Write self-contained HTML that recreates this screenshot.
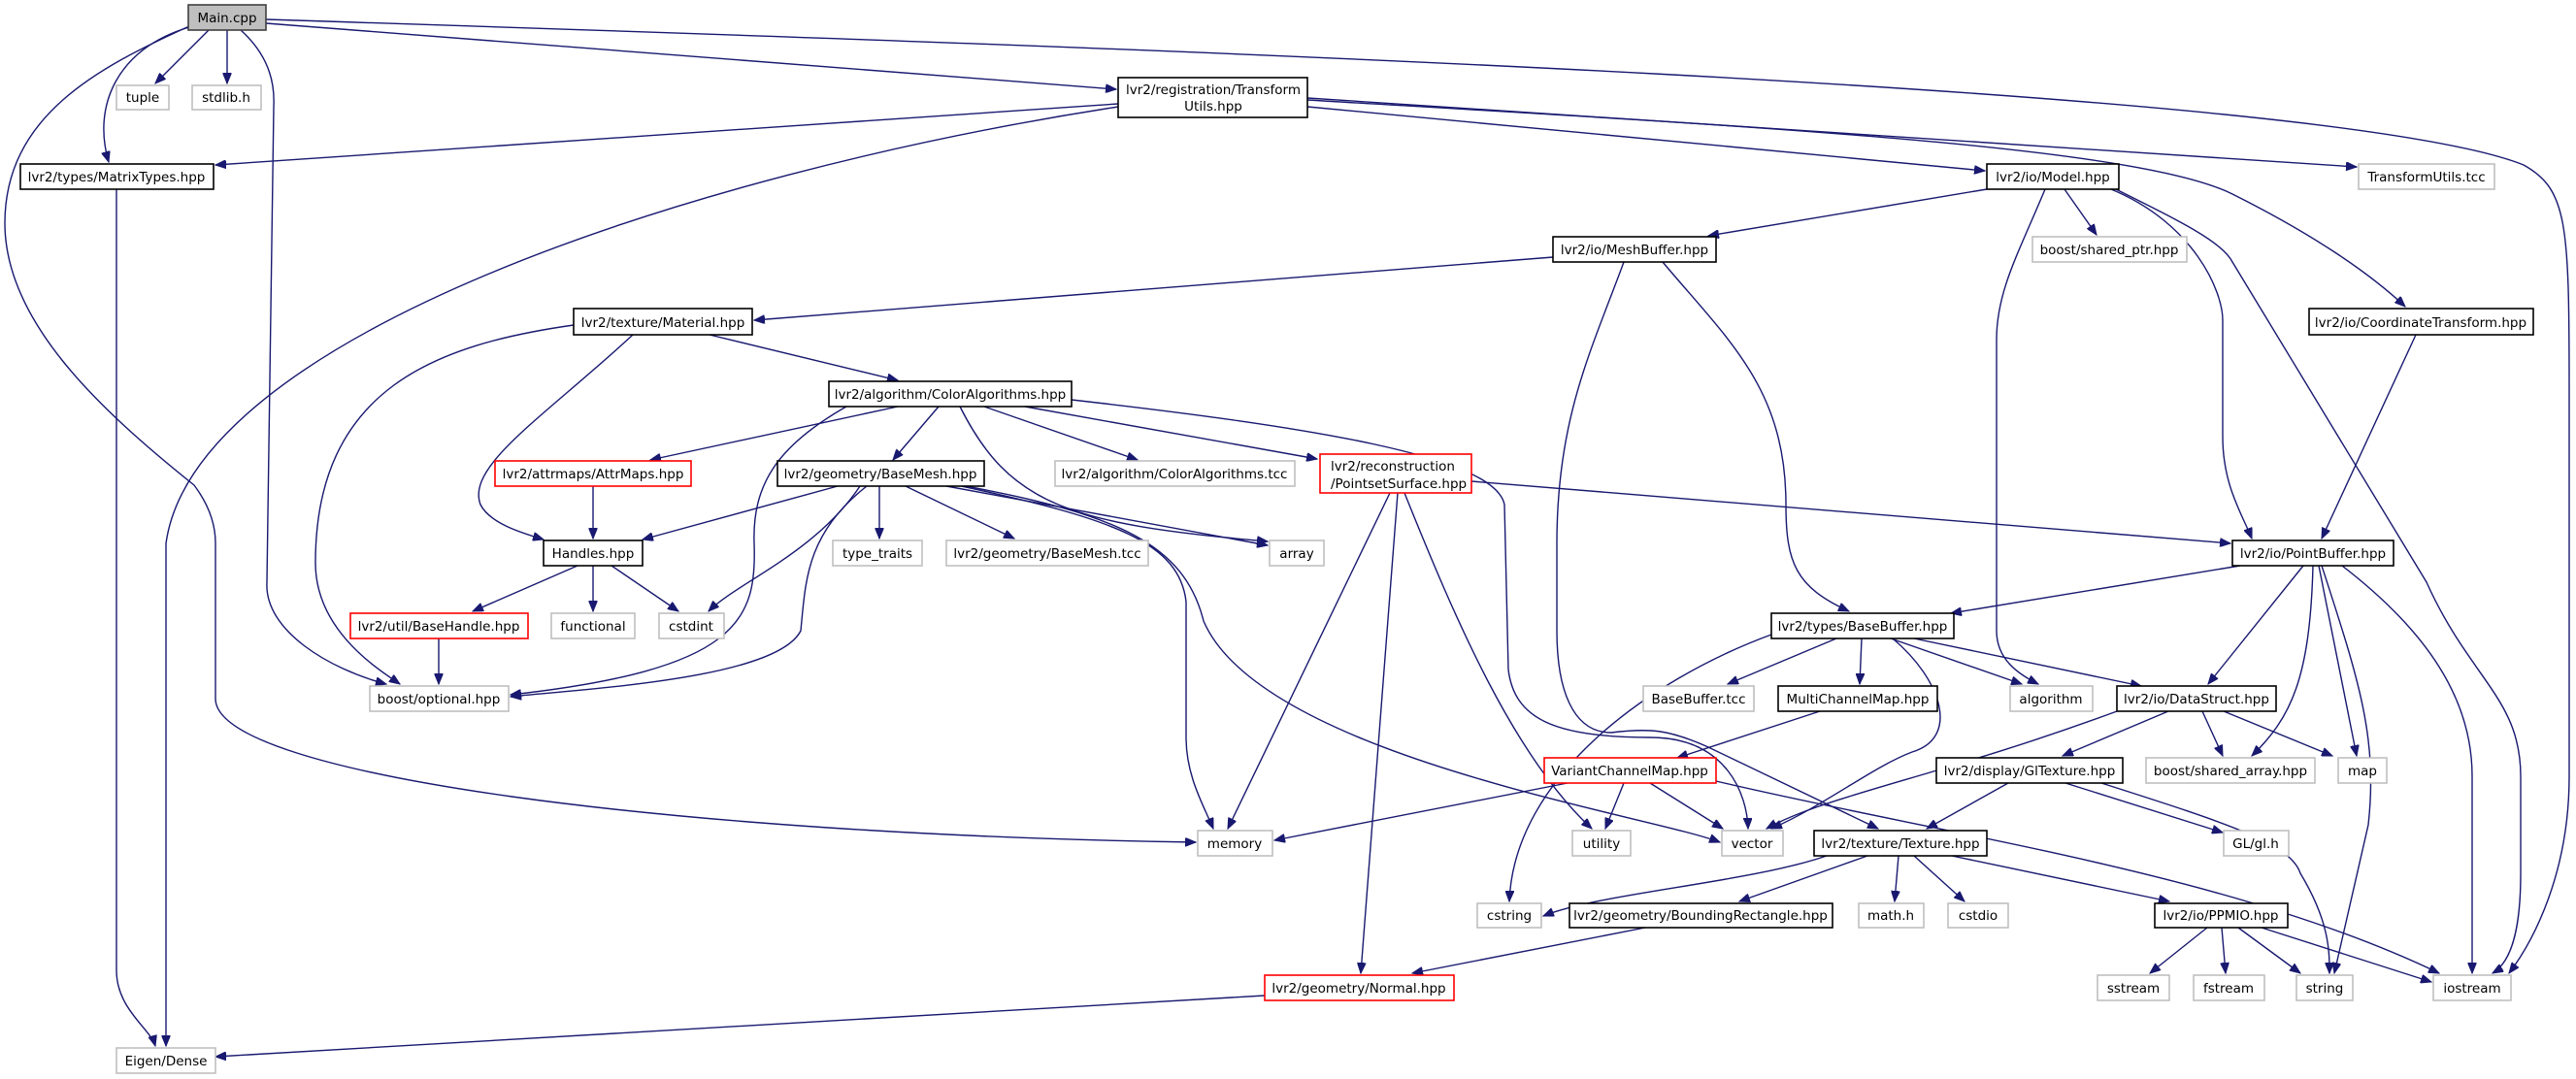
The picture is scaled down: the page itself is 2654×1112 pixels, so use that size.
<!DOCTYPE html>
<html><head><meta charset="utf-8"><style>
html,body{margin:0;padding:0;background:#fff;}
svg{display:block;}
text{font-family:"DejaVu Sans","Liberation Sans",sans-serif;font-size:13.5px;fill:#000;}
.e{fill:none;stroke:#191970;stroke-width:1.4;marker-end:url(#a);}
.b{fill:#fff;stroke:#000;stroke-width:1.6;}
.g{fill:#fff;stroke:#bfbfbf;stroke-width:1.6;}
.r{fill:#fff;stroke:#ff0000;stroke-width:1.6;}
</style></head><body>
<svg width="2654" height="1112" viewBox="0 0 2654 1112" xmlns="http://www.w3.org/2000/svg">
<defs><marker id="a" markerUnits="userSpaceOnUse" markerWidth="12" markerHeight="9" refX="11" refY="4.5" orient="auto"><path d="M0,0 L11,4.5 L0,9 z" fill="#191970" stroke="#191970"/></marker></defs>
<g>
<path class="e" d="M215,31 L160,86"/>
<path class="e" d="M234,31 L234,86"/>
<path class="e" d="M274,24 L1150,92"/>
<path class="e" d="M195,28 C120,50 95,110 112,167"/>
<path class="e" d="M274,20 C1200,50 2400,90 2600,170 C2645,195 2647,230 2647,400 L2647,800 C2647,900 2610,970 2585,1003"/>
<path class="e" d="M195,27 C100,70 5,120 5,230 C5,330 100,420 200,500 C215,520 222,540 222,560 L222,720 C222,800 700,860 1232,868"/>
<path class="e" d="M248,31 C280,60 283,90 282,110 L275,600 C272,650 340,690 398,705"/>
<path class="e" d="M1152,107 L222,170"/>
<path class="e" d="M1152,110 C700,180 200,350 171,560 L171,1078"/>
<path class="e" d="M120,195 L120,1000 C120,1040 155,1060 160,1078"/>
<path class="e" d="M1347,110 L2045,176"/>
<path class="e" d="M1347,101 L2428,172"/>
<path class="e" d="M1347,103 C1800,130 2200,150 2300,200 C2380,240 2440,280 2478,316"/>
<path class="e" d="M2047,195 L1760,243"/>
<path class="e" d="M2127,195 L2160,242"/>
<path class="e" d="M2107,195 C2080,260 2057,300 2057,350 L2057,650 C2057,680 2080,695 2100,705"/>
<path class="e" d="M2175,195 C2260,230 2290,300 2290,330 L2290,450 C2290,500 2310,530 2320,555"/>
<path class="e" d="M2180,195 C2250,230 2290,250 2300,270 L2500,600 C2545,700 2597,720 2597,800 L2597,900 C2597,950 2590,990 2568,1003"/>
<path class="e" d="M1600,265 L777,330"/>
<path class="e" d="M1673,270 C1640,360 1604,430 1604,560 L1604,650 C1604,710 1620,755 1660,755 C1700,750 1720,752 1760,770 L1935,854"/>
<path class="e" d="M1713,270 C1780,350 1840,400 1840,520 C1840,580 1850,605 1905,630"/>
<path class="e" d="M2489,345 L2392,555"/>
<path class="e" d="M591,335 C450,355 325,400 325,580 C325,650 390,690 412,705"/>
<path class="e" d="M652,345 C560,430 480,480 495,520 C505,540 540,550 560,556"/>
<path class="e" d="M731,345 L925,392"/>
<path class="e" d="M925,419 L670,474"/>
<path class="e" d="M967,419 L920,474"/>
<path class="e" d="M1014,419 L1172,474"/>
<path class="e" d="M1056,419 L1357,473"/>
<path class="e" d="M989,419 C1040,520 1100,540 1306,558"/>
<path class="e" d="M872,419 C800,460 775,500 777,560 C780,640 760,690 526,716"/>
<path class="e" d="M1104,412 C1350,440 1540,470 1550,520 L1554,690 C1560,740 1600,760 1700,760 C1780,760 1800,820 1801,854"/>
<path class="e" d="M611,501 L611,555"/>
<path class="e" d="M863,501 L662,556"/>
<path class="e" d="M906,501 L906,555"/>
<path class="e" d="M933,501 L1045,555"/>
<path class="e" d="M975,501 L1306,562"/>
<path class="e" d="M886,501 C840,570 760,600 730,630"/>
<path class="e" d="M893,501 C830,550 830,600 825,650 C800,700 600,710 526,718"/>
<path class="e" d="M990,501 C1150,535 1215,560 1222,620 L1222,760 C1222,800 1240,830 1250,854"/>
<path class="e" d="M995,501 C1150,530 1220,560 1240,640 C1300,780 1700,840 1772,868"/>
<path class="e" d="M1516,496 L2298,560"/>
<path class="e" d="M1432,508 L1265,854"/>
<path class="e" d="M1447,508 C1500,640 1560,780 1640,854"/>
<path class="e" d="M1440,508 L1402,1003"/>
<path class="e" d="M595,583 L487,630"/>
<path class="e" d="M611,583 L611,630"/>
<path class="e" d="M630,583 L699,630"/>
<path class="e" d="M452,658 L452,705"/>
<path class="e" d="M2308,583 L2010,632"/>
<path class="e" d="M2373,583 L2275,705"/>
<path class="e" d="M2383,583 C2380,700 2360,740 2320,779"/>
<path class="e" d="M2389,583 L2428,779"/>
<path class="e" d="M2392,583 C2430,700 2450,760 2440,850 L2405,1003"/>
<path class="e" d="M2413,583 C2500,650 2547,720 2547,800 L2547,1003"/>
<path class="e" d="M1892,658 L1780,705"/>
<path class="e" d="M1918,658 L1916,705"/>
<path class="e" d="M1948,658 L2083,705"/>
<path class="e" d="M1972,658 L2206,707"/>
<path class="e" d="M1950,658 C2000,700 2020,760 1970,775 C1930,790 1880,830 1825,854"/>
<path class="e" d="M1825,654 C1700,700 1560,800 1555,929"/>
<path class="e" d="M1875,733 L1728,781"/>
<path class="e" d="M1615,807 L1313,866"/>
<path class="e" d="M1673,807 L1654,854"/>
<path class="e" d="M1700,807 L1775,854"/>
<path class="e" d="M1768,805 C2000,860 2300,900 2513,1003"/>
<path class="e" d="M2181,733 C2000,800 1880,820 1820,854"/>
<path class="e" d="M2234,733 L2125,779"/>
<path class="e" d="M2269,733 L2290,779"/>
<path class="e" d="M2291,733 L2403,779"/>
<path class="e" d="M2069,807 L1985,854"/>
<path class="e" d="M2128,807 L2290,858"/>
<path class="e" d="M2165,807 C2300,850 2360,870 2370,900 C2400,950 2400,980 2400,1003"/>
<path class="e" d="M1882,882 C1800,910 1650,920 1590,944"/>
<path class="e" d="M1924,882 L1792,929"/>
<path class="e" d="M1956,882 L1952,929"/>
<path class="e" d="M1972,882 L2024,929"/>
<path class="e" d="M2011,882 L2235,929"/>
<path class="e" d="M1695,956 L1455,1003"/>
<path class="e" d="M1303,1026 L222,1089"/>
<path class="e" d="M2274,956 L2215,1003"/>
<path class="e" d="M2289,956 L2293,1003"/>
<path class="e" d="M2306,956 L2370,1003"/>
<path class="e" d="M2330,956 L2505,1012"/>
</g>
<g>
<rect x="194" y="5" width="80" height="26" fill="#bfbfbf" stroke="#404040" stroke-width="1.6"/><text x="234" y="23" text-anchor="middle">Main.cpp</text>
<rect class="g" x="120" y="88" width="54" height="25"/><text x="147" y="105" text-anchor="middle">tuple</text>
<rect class="g" x="198" y="88" width="71" height="25"/><text x="233" y="105" text-anchor="middle">stdlib.h</text>
<rect class="b" x="1152" y="80" width="195" height="41"/><text x="1250" y="97" text-anchor="middle">lvr2/registration/Transform</text><text x="1250" y="114" text-anchor="middle">Utils.hpp</text>
<rect class="b" x="21" y="169" width="199" height="26"/><text x="120" y="187" text-anchor="middle">lvr2/types/MatrixTypes.hpp</text>
<rect class="b" x="2047" y="169" width="136" height="26"/><text x="2115" y="187" text-anchor="middle">lvr2/io/Model.hpp</text>
<rect class="g" x="2430" y="169" width="140" height="26"/><text x="2500" y="187" text-anchor="middle">TransformUtils.tcc</text>
<rect class="b" x="1600" y="244" width="168" height="26"/><text x="1684" y="262" text-anchor="middle">lvr2/io/MeshBuffer.hpp</text>
<rect class="g" x="2094" y="244" width="159" height="26"/><text x="2173" y="262" text-anchor="middle">boost/shared_ptr.hpp</text>
<rect class="b" x="2379" y="318" width="231" height="27"/><text x="2494" y="337" text-anchor="middle">lvr2/io/CoordinateTransform.hpp</text>
<rect class="b" x="591" y="318" width="184" height="27"/><text x="683" y="337" text-anchor="middle">lvr2/texture/Material.hpp</text>
<rect class="b" x="854" y="393" width="250" height="26"/><text x="979" y="411" text-anchor="middle">lvr2/algorithm/ColorAlgorithms.hpp</text>
<rect class="r" x="510" y="475" width="202" height="26"/><text x="611" y="493" text-anchor="middle">lvr2/attrmaps/AttrMaps.hpp</text>
<rect class="b" x="801" y="475" width="213" height="26"/><text x="907" y="493" text-anchor="middle">lvr2/geometry/BaseMesh.hpp</text>
<rect class="g" x="1087" y="475" width="247" height="26"/><text x="1210" y="493" text-anchor="middle">lvr2/algorithm/ColorAlgorithms.tcc</text>
<rect class="r" x="1360" y="468" width="156" height="40"/><text x="1371" y="485">lvr2/reconstruction</text><text x="1371" y="503">/PointsetSurface.hpp</text>
<rect class="b" x="560" y="557" width="102" height="26"/><text x="611" y="575" text-anchor="middle">Handles.hpp</text>
<rect class="g" x="858" y="557" width="92" height="26"/><text x="904" y="575" text-anchor="middle">type_traits</text>
<rect class="g" x="975" y="557" width="208" height="26"/><text x="1079" y="575" text-anchor="middle">lvr2/geometry/BaseMesh.tcc</text>
<rect class="g" x="1308" y="557" width="56" height="26"/><text x="1336" y="575" text-anchor="middle">array</text>
<rect class="b" x="2300" y="557" width="166" height="26"/><text x="2383" y="575" text-anchor="middle">lvr2/io/PointBuffer.hpp</text>
<rect class="r" x="361" y="632" width="183" height="26"/><text x="452" y="650" text-anchor="middle">lvr2/util/BaseHandle.hpp</text>
<rect class="g" x="568" y="632" width="86" height="26"/><text x="611" y="650" text-anchor="middle">functional</text>
<rect class="g" x="679" y="632" width="67" height="26"/><text x="712" y="650" text-anchor="middle">cstdint</text>
<rect class="b" x="1825" y="632" width="188" height="26"/><text x="1919" y="650" text-anchor="middle">lvr2/types/BaseBuffer.hpp</text>
<rect class="g" x="381" y="707" width="143" height="26"/><text x="452" y="725" text-anchor="middle">boost/optional.hpp</text>
<rect class="g" x="1693" y="707" width="114" height="26"/><text x="1750" y="725" text-anchor="middle">BaseBuffer.tcc</text>
<rect class="b" x="1832" y="707" width="164" height="26"/><text x="1914" y="725" text-anchor="middle">MultiChannelMap.hpp</text>
<rect class="g" x="2071" y="707" width="85" height="26"/><text x="2113" y="725" text-anchor="middle">algorithm</text>
<rect class="b" x="2181" y="707" width="164" height="26"/><text x="2263" y="725" text-anchor="middle">lvr2/io/DataStruct.hpp</text>
<rect class="r" x="1591" y="781" width="177" height="26"/><text x="1679" y="799" text-anchor="middle">VariantChannelMap.hpp</text>
<rect class="b" x="1995" y="781" width="192" height="26"/><text x="2091" y="799" text-anchor="middle">lvr2/display/GlTexture.hpp</text>
<rect class="g" x="2211" y="781" width="174" height="26"/><text x="2298" y="799" text-anchor="middle">boost/shared_array.hpp</text>
<rect class="g" x="2409" y="781" width="50" height="26"/><text x="2434" y="799" text-anchor="middle">map</text>
<rect class="g" x="1234" y="856" width="77" height="26"/><text x="1272" y="874" text-anchor="middle">memory</text>
<rect class="g" x="1620" y="856" width="60" height="26"/><text x="1650" y="874" text-anchor="middle">utility</text>
<rect class="g" x="1774" y="856" width="63" height="26"/><text x="1805" y="874" text-anchor="middle">vector</text>
<rect class="b" x="1869" y="856" width="178" height="26"/><text x="1958" y="874" text-anchor="middle">lvr2/texture/Texture.hpp</text>
<rect class="g" x="2291" y="856" width="67" height="26"/><text x="2324" y="874" text-anchor="middle">GL/gl.h</text>
<rect class="g" x="1522" y="931" width="66" height="25"/><text x="1555" y="948" text-anchor="middle">cstring</text>
<rect class="b" x="1617" y="931" width="271" height="25"/><text x="1752" y="948" text-anchor="middle">lvr2/geometry/BoundingRectangle.hpp</text>
<rect class="g" x="1915" y="931" width="67" height="25"/><text x="1948" y="948" text-anchor="middle">math.h</text>
<rect class="g" x="2007" y="931" width="62" height="25"/><text x="2038" y="948" text-anchor="middle">cstdio</text>
<rect class="b" x="2220" y="931" width="137" height="25"/><text x="2288" y="948" text-anchor="middle">lvr2/io/PPMIO.hpp</text>
<rect class="r" x="1303" y="1005" width="195" height="26"/><text x="1400" y="1023" text-anchor="middle">lvr2/geometry/Normal.hpp</text>
<rect class="g" x="2161" y="1005" width="74" height="26"/><text x="2198" y="1023" text-anchor="middle">sstream</text>
<rect class="g" x="2260" y="1005" width="73" height="26"/><text x="2296" y="1023" text-anchor="middle">fstream</text>
<rect class="g" x="2366" y="1005" width="58" height="26"/><text x="2395" y="1023" text-anchor="middle">string</text>
<rect class="g" x="2507" y="1005" width="80" height="26"/><text x="2547" y="1023" text-anchor="middle">iostream</text>
<rect class="g" x="120" y="1080" width="102" height="26"/><text x="171" y="1098" text-anchor="middle">Eigen/Dense</text>
</g>
</svg>
</body></html>
